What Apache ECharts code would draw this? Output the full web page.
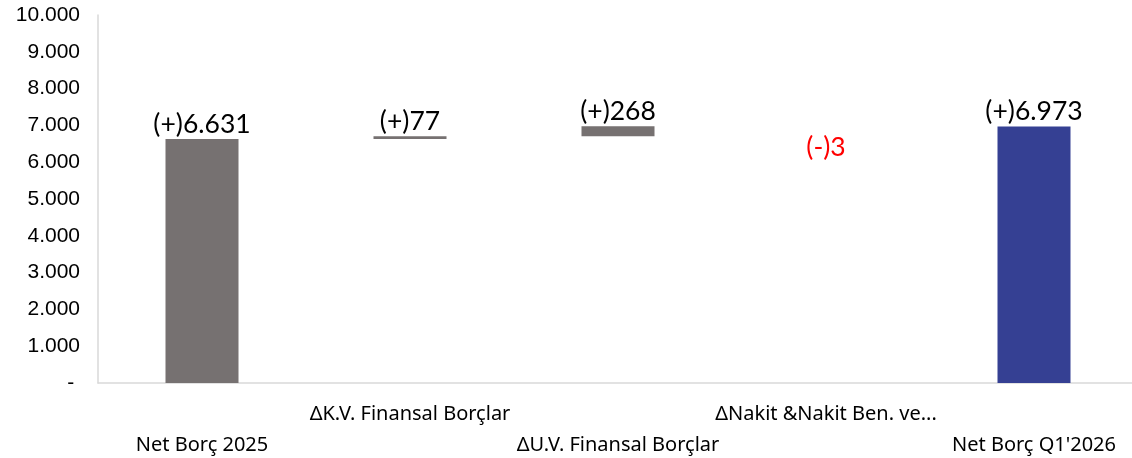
<!DOCTYPE html>
<html>
<head>
<meta charset="utf-8">
<script src="https://cdn.jsdelivr.net/npm/echarts@6/dist/echarts.min.js"></script>
<style>
html,body{margin:0;padding:0;background:#fff;}
#c{width:1132px;height:458px;}
</style>
</head>
<body>
<div id="c"></div>
<script>
const categories = ["Net Borç 2025", "ΔK.V. Finansal Borçlar", "ΔU.V. Finansal Borçlar", "ΔNakit &Nakit Ben. ve...", "Net Borç Q1'2026"];
const values = [6631, 77, 268, -3, 6973];
const isTotal = [true, false, false, false, true];
const yTicks = [0, 1000, 2000, 3000, 4000, 5000, 6000, 7000, 8000, 9000, 10000];

const GRAY = '#767171', BLUE = '#354093';
function fmt(n){ return String(Math.abs(n)).replace(/\B(?=(\d{3})+(?!\d))/g, '.'); }

const base = [], delta = [];
let run = 0;
values.forEach((v, i) => {
  if (isTotal[i]) { base.push(0); delta.push(v); run = v; }
  else if (v >= 0) { base.push(run); delta.push(v); run += v; }
  else { run += v; base.push(run); delta.push(-v); }
});

const deltaData = delta.map((d, i) => {
  const neg = values[i] < 0;
  const color = (i === values.length - 1) ? BLUE : GRAY;
  return {
    value: d,
    itemStyle: { color: neg ? 'rgba(118,113,113,0)' : color },
    label: neg ? { position: 'bottom', distance: 8, color: '#ff0000' } : { position: 'top', distance: 1, color: '#000' }
  };
});

const chart = echarts.init(document.getElementById('c'));
chart.setOption({
  animation: false,
  grid: { left: 98, width: 1040, top: 15, bottom: 75, containLabel: false, outerBoundsMode: 'none' },
  xAxis: {
    type: 'category',
    data: categories,
    axisLine: { lineStyle: { color: '#d9d9d9', width: 1.5 } },
    axisTick: { show: false },
    axisLabel: {
      interval: 0, hideOverlap: false, margin: 16,
      fontFamily: 'Noto Sans', fontSize: 20, color: '#000', lineHeight: 31,
      formatter: (v, i) => i % 2 === 0 ? '\n' + v : v + '\n'
    }
  },
  yAxis: {
    type: 'value', min: 0, max: 10000, interval: 1000,
    splitLine: { show: false },
    axisLine: { show: true, lineStyle: { color: '#d9d9d9', width: 1.5 } },
    axisTick: { show: false },
    axisLabel: {
      margin: 18, color: '#000',
      formatter: v => '{t|' + (v === 0 ? '- ' : fmt(v)) + '}',
      rich: { t: { fontFamily: 'Liberation Sans', fontSize: 21, color: '#000' } }
    }
  },
  series: [
    { type: 'bar', stack: 'w', data: base, barWidth: 73, itemStyle: { color: 'transparent' }, silent: true },
    { type: 'bar', stack: 'w', data: deltaData, barWidth: 73,
      label: { show: true, fontFamily: 'Lato', fontSize: 26.5,
        formatter: p => (values[p.dataIndex] < 0 ? '(-)' : '(+)') + fmt(values[p.dataIndex]) } }
  ]
});
</script>
</body>
</html>
